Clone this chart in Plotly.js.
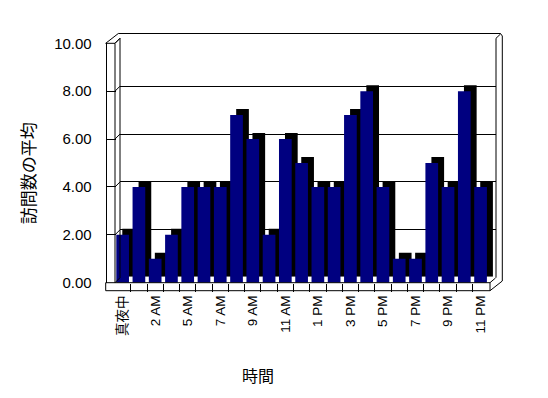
<!DOCTYPE html>
<html>
<head>
<meta charset="utf-8">
<script src="https://cdn.plot.ly/plotly-3.0.1.min.js"></script>
<style>html,body{margin:0;padding:0;background:#fff;}#chart{width:548px;height:398px;}</style>
</head>
<body>
<div id="chart"></div>
<script>
// ---- data ----
const hours = ['真夜中','1 AM','2 AM','4 AM','5 AM','6 AM','7 AM','8 AM','9 AM','10 AM','11 AM','正午',
               '1 PM','2 PM','3 PM','4 PM','5 PM','6 PM','7 PM','8 PM','9 PM','10 PM','11 PM'];
const visits = [2,4,1,2,4,4,4,7,6,2,6,5,4,4,7,8,4,1,1,5,4,8,4];
const shownLabels = ['真夜中','2 AM','5 AM','7 AM','9 AM','11 AM','1 PM','3 PM','5 PM','7 PM','9 PM','11 PM'];
const yTicks = [0,2,4,6,8,10];
const xTitle = '時間';
const yTitle = '訪問数の平均';

// ---- layout geometry (pixels) ----
const W = 548, H = 398;
const px = x => x / W;
const py = y => 1 - y / H;
const front = {x0:114.5, x1:488.7, yb:282.7, yt:43.3};
const depth = 6;
const back = {x0:120, x1:496, yb:277.7, yt:38.3};

const CJK = '"Noto Sans CJK JP", "Liberation Sans", sans-serif';
const LAT = '"Liberation Sans", Arial, "Noto Sans CJK JP", sans-serif';

const ticktext = hours.map(h => shownLabels.includes(h) ? h : '');

const traces = [
  {type:'scatter', x:[], y:[], xaxis:'x', yaxis:'y', hoverinfo:'skip', showlegend:false},
  {type:'bar', x:hours, y:visits, xaxis:'x2', yaxis:'y2', marker:{color:'#000000', line:{width:0}}, showlegend:false},
  {type:'bar', x:hours, y:visits, xaxis:'x3', yaxis:'y3', marker:{color:'#000080', line:{width:0}}, showlegend:false},
  {type:'scatter', x:[], y:[], xaxis:'x4', yaxis:'y3', hoverinfo:'skip', showlegend:false}
];

const L = (x0,y0,x1,y1) => ({type:'line', xref:'paper', yref:'paper', x0:px(x0), y0:py(y0), x1:px(x1), y1:py(y1), line:{color:'#000', width:1}});
const shapes = [
  // back wall
  L(back.x0, back.yb, back.x0, back.yt),
  L(back.x1, back.yt, back.x1, back.yb),
  L(back.x1, back.yt, 500.5, 34),
  L(118.3, 33.5, 500.5, 33.5),
  L(500.5, 33.5, 502.3, 36),
  L(502.3, 36, 502.3, 281),
  // left slab
  L(115, front.yt, 115, front.yb),
  L(105.7, front.yt, 115, front.yt),
  L(105.7, front.yt, 118.3, 33.5),
  L(115, front.yt, back.x0, back.yt),
  L(105.7, front.yb, 105.7, 290.7),
  // floor
  L(105.7, front.yb, 490, front.yb),
  L(105.7, 290.7, 490, 290.7),
  L(490, front.yb, 490, 290.7),
  L(490, 290.7, 502.3, 281),
  L(490, front.yb, 495.5, 278)
];
yTicks.forEach(v => {
  const yf = front.yb - v * (front.yb - front.yt) / 10;
  const yb = back.yb - v * (back.yb - back.yt) / 10;
  shapes.push(L(115, yf, back.x0, yb));
});

const layout = {
  width: W, height: H,
  margin: {l:0, r:0, t:0, b:0},
  paper_bgcolor: '#fff', plot_bgcolor: 'rgba(0,0,0,0)',
  showlegend: false,
  barmode: 'overlay',
  bargap: 0.22,
  font: {family: LAT, color: '#000'},
  // back wall gridlines
  xaxis: {domain:[px(back.x0), px(back.x1)], range:[0,1], visible:false, fixedrange:true},
  yaxis: {domain:[py(back.yb), py(back.yt)], range:[0,10], anchor:'x', showgrid:true, gridcolor:'#000', gridwidth:1,
          tickvals:yTicks, showticklabels:false, ticks:'', zeroline:false, showline:false},
  // shadow (depth) bars
  xaxis2: {domain:[px(front.x0+depth), px(front.x1+depth)], type:'category', categoryarray:hours, range:[-0.5, hours.length-0.5],
           anchor:'y2', visible:false},
  yaxis2: {domain:[py(front.yb-depth), py(front.yt-depth)], range:[0,10], anchor:'x2', visible:false},
  // front bars
  xaxis3: {domain:[px(front.x0), px(front.x1)], type:'category', categoryarray:hours, range:[-0.5, hours.length-0.5],
           anchor:'y3', tickvals:hours, ticktext:ticktext, tickangle:-90, ticks:'', showline:false, showgrid:false,
           tickfont:{family:LAT, size:13.5, color:'#000000'}, ticklabelstandoff:9},
  yaxis3: {domain:[py(front.yb), py(front.yt)], range:[0,10], anchor:'free', position:px(105.7), showline:true, linecolor:'#000', linewidth:1,
           tickvals:yTicks, tickformat:'.2f', ticks:'inside', ticklen:9, tickcolor:'#000', tickwidth:1,
           showgrid:false, zeroline:false, tickfont:{family:LAT, size:15, color:'#000'}, ticklabelstandoff:11},
  // category boundary ticks on floor
  xaxis4: {domain:[px(front.x0), px(front.x1)], overlaying:'x3', anchor:'y3', type:'linear', range:[-0.5, hours.length-0.5],
           tickvals:visits.slice(1).map((_, i) => i + 0.5), ticks:'outside', ticklen:8, tickcolor:'#000', tickwidth:1,
           showticklabels:false, showgrid:false, zeroline:false, showline:false},
  shapes: shapes,
  annotations: [
    {text:yTitle, xref:'paper', yref:'paper', x:px(27), y:py(173.3), showarrow:false, textangle:-90,
     font:{family:CJK, size:17, color:'#000'}, xanchor:'center', yanchor:'middle'},
    {text:xTitle, xref:'paper', yref:'paper', x:px(258), y:py(375), showarrow:false,
     font:{family:CJK, size:16, color:'#000'}, xanchor:'center', yanchor:'middle'}
  ]
};

Plotly.newPlot('chart', traces, layout, {staticPlot:true, displayModeBar:false});
</script>
</body>
</html>
